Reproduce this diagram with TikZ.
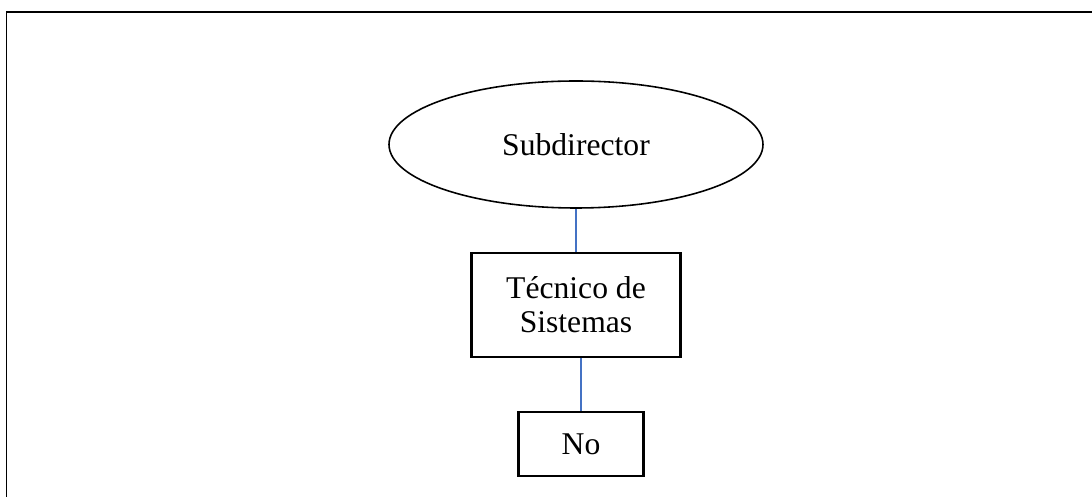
\documentclass[tikz,border=0pt]{standalone}
\usepackage{fontspec}
\setmainfont{Liberation Serif}
\usetikzlibrary{shapes.geometric,positioning}
\definecolor{linkColor}{HTML}{4472C4}
\tikzset{
	unit/.style={draw, line width=1.3pt, align=center, inner sep=0pt, font=\fontsize{18}{19.5}\selectfont},
	link/.style={draw=linkColor, line width=0.9pt}
}

\begin{document}
\begin{tikzpicture}
	\useasboundingbox (0,0) rectangle (21.84,-9.94);
	% frame, cut at the page edge
	\draw[line width=1.1pt] (0.13,-9.94) -- (0.13,-0.24) -- (21.84,-0.24);
	\node[unit, ellipse, line width=0.9pt, minimum width=7.48cm, minimum height=2.54cm] (sub) at (11.52,-2.89) {Subdirector};
	\node[unit, rectangle, minimum width=4.18cm, minimum height=2.08cm] (tec) at (11.52,-6.10) {Técnico de\\Sistemas};
	\node[unit, rectangle, minimum width=2.5cm, minimum height=1.28cm] (no) at (11.62,-8.88) {No};
	
	\path[link] (sub.south) -- (tec.north);
	\path[link] (tec.south -| no.north) -- (no.north);
\end{tikzpicture}
\end{document}
